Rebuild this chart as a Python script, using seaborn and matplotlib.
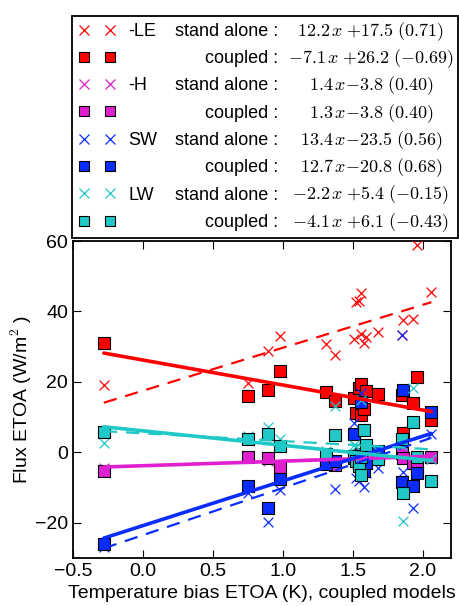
import numpy as np
import seaborn as sns
import matplotlib.pyplot as plt
from matplotlib.lines import Line2D

# temperature bias of the coupled models (K), one value per model
temp_bias = [-0.28, 0.75, 0.89, 0.98, 1.31, 1.37, 1.51, 1.52, 1.54, 1.555,
             1.56, 1.58, 1.59, 1.68, 1.85, 1.86, 1.93, 1.96, 2.06]

# fluxes (W/m2), stand alone and coupled runs
le_sa = [19.0, 19.6, 28.7, 32.9, 30.8, 27.7, 32.2, 42.6, 43.0, 45.2,
         33.7, 31.1, 32.7, 34.1, 33.2, 37.7, 37.8, 59.0, 45.4]
le_cpl = [31.1, 16.1, 17.8, 23.1, 17.0, 14.7, 15.4, 11.1, 18.3, 19.4,
          10.6, 12.2, 17.3, 16.5, 16.3, 5.6, 13.9, 21.4, 9.1]
h_sa = [-4.5, -1.5, -2.6, -3.5, -2.5, -3.0, -1.0, -2.5, -0.5, -2.0,
        -1.5, -2.5, -1.5, -0.5, -1.0, -1.0, -2.8, -3.5, -2.0]
h_cpl = [-5.3, -1.2, -1.7, -4.3, -3.0, -3.5, -1.5, -2.0, -1.0, -2.5,
         -0.5, -3.0, -2.0, -1.0, -0.3, -1.5, -3.0, -4.1, -1.4]
sw_sa = [-27.0, -11.5, -19.7, -10.8, -3.0, -10.3, 8.2, -7.4, -8.2, 16.8,
         -1.5, -9.9, -6.0, -4.5, 33.2, -5.5, -15.9, -1.0, 5.1]
sw_cpl = [-26.0, -9.6, -15.9, -7.7, -3.4, -2.6, 5.3, -2.4, -4.0, 14.4,
          -1.0, -5.3, -3.0, 0.5, -8.4, 17.6, -9.6, -5.8, 11.5]
lw_sa = [2.7, 4.5, 7.2, 3.8, 0.5, 13.2, 2.0, 1.9, -2.0, 14.9,
         -3.0, 1.0, 0.0, 0.5, 2.0, -19.4, 18.3, -1.0, -1.9]
lw_cpl = [5.8, 3.8, 5.3, 1.9, -0.5, 4.8, -1.0, -2.6, -3.8, -1.4,
          -6.3, 6.2, 2.2, -1.9, 3.8, -11.5, 8.7, -1.4, -8.0]

names = ['-LE', '-H', 'SW', 'LW']
colors = ['#ff0000', '#e020d0', '#0a2cff', '#20c8c8']

# regression fits from the legend: slope, intercept, correlation
sa_slope = [12.2, 1.4, 13.4, -2.2]
sa_icpt = [17.5, -3.8, -23.5, 5.4]
sa_r = [0.71, 0.40, 0.56, -0.15]
cpl_slope = [-7.1, 1.3, 12.7, -4.1]
cpl_icpt = [26.2, -3.8, -20.8, 6.1]
cpl_r = [-0.69, 0.40, 0.68, -0.43]

sa_data = [le_sa, h_sa, sw_sa, lw_sa]
cpl_data = [le_cpl, h_cpl, sw_cpl, lw_cpl]

sns.set_style('ticks')
plt.rcParams['font.family'] = ['Liberation Sans', 'DejaVu Sans']
plt.rcParams['mathtext.fontset'] = 'cm'
plt.rcParams['text.color'] = 'black'
plt.rcParams['axes.labelcolor'] = 'black'
fs = 14
lfs = 13


def num(v):
    s = '%.1f' % abs(v)
    return ('-' + s) if v < 0 else s


def eq(a, b, r):
    sign = '{+}' if b >= 0 else '{-}'
    gap = r'\;' if b >= 0 else ''
    rr = ('-%.2f' % abs(r)) if r < 0 else '%.2f' % r
    return r'$%s\,x%s%s%.1f\ (%s)$' % (num(a), gap, sign, abs(b), rr)


fig = plt.figure(figsize=(4.59, 6.06), dpi=100)
ax = fig.add_axes([73 / 459, 48 / 606, 378 / 459, 317 / 606])

x = np.array(temp_bias)
xl = np.array([x.min(), x.max()])
handles, labels, eqs, kinds = [], [], [], []
for i in range(4):
    c = colors[i]
    sns.scatterplot(x=x, y=sa_data[i], marker='x', color=c, s=50,
                    linewidth=0.9, ax=ax, zorder=3)
    sns.scatterplot(x=x, y=cpl_data[i], marker='s', color=c, s=64,
                    edgecolor='black', linewidth=0.8, ax=ax, zorder=3)
    sns.lineplot(x=xl, y=sa_slope[i] * xl + sa_icpt[i], color=c, lw=1.6,
                 ax=ax, zorder=4)
    ax.lines[-1].set_linestyle((0, (6, 4)))
    sns.lineplot(x=xl, y=cpl_slope[i] * xl + cpl_icpt[i], color=c, lw=2.6,
                 ax=ax, zorder=4)
    handles.append(Line2D([], [], ls='none', marker='x', color=c, ms=7, mew=0.9))
    labels.append(names[i])
    eqs.append(eq(sa_slope[i], sa_icpt[i], sa_r[i]))
    kinds.append('stand alone :')
    handles.append(Line2D([], [], ls='none', marker='s', color=c, ms=7,
                          mec='black', mew=0.8))
    labels.append(' ')
    eqs.append(eq(cpl_slope[i], cpl_icpt[i], cpl_r[i]))
    kinds.append('coupled :')

ax.set_xlim(-0.5, 2.2)
ax.set_ylim(-30, 60)
ax.set_xticks([-0.5, 0.0, 0.5, 1.0, 1.5, 2.0])
ax.set_yticks([-20, 0, 20, 40, 60])
ax.tick_params(direction='in', top=True, right=True, labelsize=fs,
               length=6, width=0.8, colors='black')
for s in ax.spines.values():
    s.set_linewidth(1.3)
    s.set_color('black')
ax.set_xlabel('Temperature bias ETOA (K), coupled models', fontsize=fs,
              labelpad=4)
ax.set_ylabel('Flux ETOA (W/m$^2$ )', fontsize=fs, labelpad=1)

leg = fig.legend(handles, labels, numpoints=2, fontsize=lfs, loc='upper left',
                 bbox_to_anchor=(72 / 459, 1 - 234 / 606, 386 / 459, 218 / 606),
                 mode='expand', borderaxespad=0, borderpad=0.38,
                 handletextpad=0.75, labelspacing=0.57, fancybox=False,
                 frameon=True, edgecolor='black', framealpha=1)
leg.get_frame().set_linewidth(1.3)
leg.set_zorder(1)

fig.canvas.draw()
inv = fig.transFigure.inverted()
for t, k, e in zip(leg.get_texts(), kinds, eqs):
    bb = t.get_window_extent()
    yc = inv.transform((0, (bb.y0 + bb.y1) / 2))[1]
    fig.text(278 / 459, yc, k, ha='right', va='center', fontsize=lfs, zorder=10)
    fig.text(371 / 459, yc, e, ha='center', va='center', fontsize=lfs, zorder=10)

fig.savefig('out.png', dpi=100)
